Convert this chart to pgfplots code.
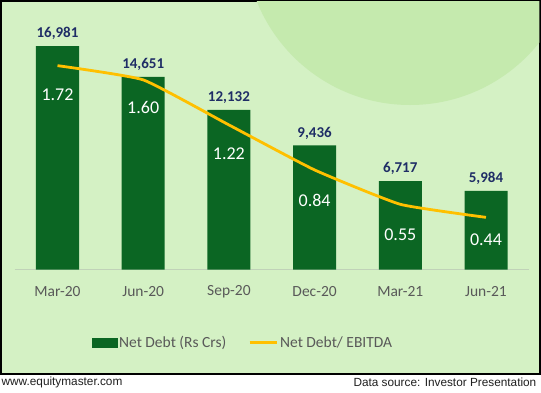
\documentclass[border=0pt]{standalone}
\usepackage{fontspec}
\setmainfont{Carlito}
\newfontfamily\arialfont{Liberation Sans}
\usepackage{pgfplots}
\pgfplotsset{compat=1.18}
\definecolor{bg}{HTML}{D4F1C4}
\definecolor{circ}{HTML}{C5EAAE}
\definecolor{bargreen}{HTML}{0B6623}
\definecolor{lineyellow}{HTML}{FFC000}
\definecolor{navy}{HTML}{1F2D66}
\definecolor{txtgray}{HTML}{595959}
\definecolor{basegray}{HTML}{C0D2B8}
\begin{document}
\begin{tikzpicture}[x=1pt,y=1pt]
\useasboundingbox (0,0) rectangle (541,-392);
\fill[white] (0,0) rectangle (541,-392);
\fill[black] (0,0) rectangle (541,-374.6);
\begin{scope}
\clip (1.6,-1.6) rectangle (539.4,-373);
\fill[bg] (1.6,-1.6) rectangle (539.4,-373);
\fill[circ] (410,60) circle (165);
\end{scope}
\node[font=\arialfont\fontsize{11.8}{14}\selectfont, anchor=west, text=black!88, inner sep=0] at (1.5,-382.5) {www.equitymaster.com};
\node[font=\arialfont\fontsize{11.8}{14}\selectfont, anchor=east, text=black!88, inner sep=0] at (536.5,-382.5) {Data source: Investor Presentation};

\begin{axis}[
  at={(14.65pt,-269.5pt)}, anchor=south west, scale only axis,
  width=514.2pt, height=249.5pt,
  xmin=-0.5, xmax=5.5, ymin=0, ymax=18973,
  ybar, bar width=43pt,
  axis x line*=bottom, hide y axis,
  x axis line style={-, draw=basegray, line width=0.8pt},
  xtick={0,1,2,3,4,5},
  xticklabels={Mar-20,Jun-20,Sep-20,Dec-20,Mar-21,Jun-21},
  major tick length=0pt, tick style={draw=none},
  xticklabel style={font=\fontsize{15.5}{18}\selectfont, text=txtgray, anchor=center, yshift=-22pt},
  clip=false,
]
\addplot[fill=bargreen, draw=none, point meta=explicit symbolic, nodes near coords,
  every node near coord/.append style={font=\bfseries\fontsize{15}{18}\selectfont, text=navy, anchor=center, yshift=12.5pt}]
  coordinates {(0,16981)[{16,981}] (1,14651)[{14,651}] (2,12132)[{12,132}] (3,9436)[{9,436}] (4,6717)[{6,717}] (5,5984)[{5,984}]};
\end{axis}

\begin{axis}[
  at={(14.65pt,-269.5pt)}, anchor=south west, scale only axis,
  width=514.2pt, height=249.5pt,
  xmin=-0.5, xmax=5.5, ymin=0, ymax=2.105,
  hide axis, clip=false,
  legend columns=2,
  legend style={at={(0.444,-0.2935)}, anchor=center, draw=none, fill=none,
    font=\fontsize{15.5}{18}\selectfont, text=txtgray,
    /tikz/every even column/.append style={column sep=20pt}},
  legend cell align=left,
]
\addlegendimage{legend image code/.code={\fill[bargreen] (-3pt,-4.3pt) rectangle (22pt,4.3pt);}}
\addlegendentry{Net Debt (Rs Crs)}
\addplot[lineyellow, line width=2.8pt, smooth, tension=0.25, mark=none,
  legend image code/.code={\draw[lineyellow, line width=2.8pt] (0pt,0pt) -- (27pt,0pt);}]
  coordinates {(0,1.72) (1,1.60) (2,1.22) (3,0.84) (4,0.55) (5,0.44)};
\addlegendentry{Net Debt/ EBITDA}
\addplot[draw=none, mark=none, point meta=explicit symbolic, nodes near coords,
  every node near coord/.append style={font=\fontsize{18}{21}\selectfont, text=white, anchor=center}, forget plot]
  coordinates {(0,1.473)[1.72] (1,1.369)[1.60] (2,0.981)[1.22] (3,0.586)[0.84] (4,0.297)[0.55] (5,0.255)[0.44]};
\end{axis}
\end{tikzpicture}
\end{document}
